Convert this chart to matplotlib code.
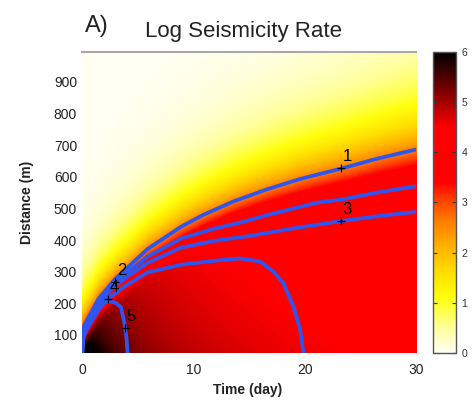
import numpy as np
import matplotlib.pyplot as plt
from matplotlib.colors import LinearSegmentedColormap

plt.rcParams['font.family'] = ['Liberation Sans', 'DejaVu Sans']

# contour curves (time in days, distance in m)
t1 = [0, 0.5, 1.5, 3.0, 4.0, 5.9, 8.9, 10.8, 13.6, 16.6, 19.6, 23.3, 26.5, 30]
r1 = [115, 150, 215, 278, 310, 372, 442, 478, 522, 560, 593, 626, 657, 686]

t2 = [0, 0.5, 1.5, 3.0, 3.8, 5.9, 8.9, 11.8, 14.2, 17, 21.1, 23.3, 26.5, 30]
r2 = [100, 138, 200, 265, 290, 348, 405, 435, 455, 482, 518, 528, 550, 570]

t3 = [0, 0.5, 1.5, 2.5, 3.8, 5.9, 8.9, 11.8, 15.1, 19, 23.3, 26.5, 30]
r3 = [95, 132, 192, 240, 278, 328, 376, 397, 413, 437, 460, 475, 489]

t4 = [0, 0.5, 1.5, 2.33, 3.8, 5.9, 8.9, 12, 14.2, 16.0, 17.2, 18.1, 19.0, 19.6, 19.9]
r4 = [85, 122, 180, 214, 253, 298, 322, 335, 342, 332, 300, 263, 189, 116, 42]

t5 = [0.05, 0.15, 0.5, 1.2, 2.0, 2.6, 3.1, 3.5, 3.8, 4.0, 4.1]
r5 = [43, 100, 150, 185, 203, 206, 200, 188, 140, 90, 43]

# labelled points on the contours
mark_t = [23.3, 3.0, 23.3, 2.33, 3.82]
mark_r = [626, 268, 460, 214, 123]
mark_lab = ['1', '2', '3', '4', '5']

# seismicity rate model parameters
base_rate = 4.0
front_rate = 2.6
a1, tau1, rho1 = 1.6, 2.44, 100.0
a2, tau2, rho2 = 1.67, 11.1, 750.0

t = np.linspace(0, 30, 301)
r = np.linspace(43, 995, 401)
T, R = np.meshgrid(t, r)

front = np.interp(T, t1, r1) + 25 * np.exp(-T / 2.0)
lam = 95 + 2.5 * T
f = front_rate * np.exp(-(R - front) / lam)
ex = a1 * np.exp(-T / tau1 - R / rho1) + a2 * np.exp(-R / rho2) / (1 + T / tau2)
inner = base_rate + ex
k = 8
rate = (f ** -k + inner ** -k) ** (-1.0 / k)
rate = np.clip(rate, 0, 6)

nodes = [(0.0, (1, 1, 0.95)), (0.5, (1, 1, 0.6)), (1.1, (1, 1, 0.05)),
         (1.6, (1, 0.87, 0)), (2.1, (1, 0.7, 0)), (2.6, (1, 0.5, 0)),
         (3.1, (1, 0.22, 0)), (3.4, (1, 0, 0)), (4.5, (1, 0, 0)),
         (5.25, (0.47, 0, 0)), (6.0, (0, 0, 0))]
cmap = LinearSegmentedColormap.from_list('seis', [(v / 6.0, c) for v, c in nodes])

fig = plt.figure(figsize=(4.75, 4.03), dpi=100)
ax = fig.add_axes([0.1726, 0.124, 0.7032, 0.7477])
cax = fig.add_axes([0.9116, 0.124, 0.0484, 0.7477])

im = ax.imshow(rate, extent=[0, 30, 43, 995], origin='lower', aspect='auto',
               cmap=cmap, vmin=0, vmax=6, interpolation='bilinear')

blue = '#2f55f0'
for tt, rr in [(t1, r1), (t2, r2), (t3, r3), (t4, r4), (t5, r5)]:
    ax.plot(tt, rr, color=blue, lw=2.7, solid_capstyle='round')

for mt, mr, lab in zip(mark_t, mark_r, mark_lab):
    ax.plot(mt, mr, '+', color='k', ms=5.5, mew=0.9)
    ax.annotate(lab, (mt, mr), xytext=(1, 3), textcoords='offset points',
                ha='left', va='bottom', fontsize=12)

ax.set_xlim(0, 30)
ax.set_ylim(43, 995)
ax.set_xticks([0, 10, 20, 30])
ax.set_yticks(range(100, 1000, 100))
ax.tick_params(axis='both', length=0, labelsize=10, colors='#222222')
ax.tick_params(axis='x', pad=7)
ax.tick_params(axis='y', pad=3.5)
for s in ['left', 'right', 'bottom']:
    ax.spines[s].set_visible(False)
ax.spines['top'].set_color('#a8a8a8')
ax.spines['top'].set_linewidth(1.5)

cb = fig.colorbar(im, cax=cax, ticks=range(7))
cb.outline.set_edgecolor('#555555')
cb.outline.set_linewidth(1)
cax.tick_params(direction='in', length=3, width=0.8, left=True, right=True,
                labelsize=7.5, pad=4, colors='#333333')

fig.text(0.5116, 0.908, 'Log Seismicity Rate', ha='center', va='baseline',
         fontsize=16, color='#222222')
fig.text(0.179, 0.9206, 'A)', ha='left', va='baseline', fontsize=17, color='#222222')
fig.text(0.522, 0.032, 'Time (day)', ha='center', va='center', fontsize=10,
         fontweight='bold', color='#222222')
fig.text(0.057, 0.499, 'Distance (m)', ha='center', va='center', rotation=90,
         fontsize=10, fontweight='bold', color='#222222')

fig.savefig('out.png', dpi=100)
